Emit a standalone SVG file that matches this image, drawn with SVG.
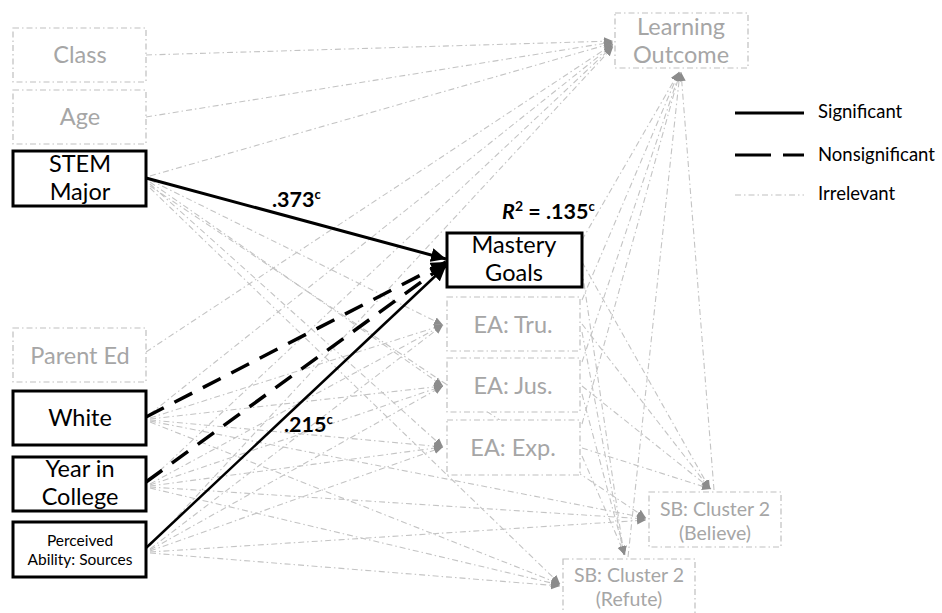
<svg xmlns="http://www.w3.org/2000/svg" width="942" height="613" viewBox="0 0 942 613">
  <style>
    .t { font-family: Lato, "Open Sans", "Liberation Sans", sans-serif; text-anchor: middle; }
    .g { fill: #a6a6a6; font-size: 23.5px; }
    .k { fill: #000; font-size: 23.5px; }
    .sb { fill: #a6a6a6; font-size: 19.5px; }
    .box-g { fill: #fff; stroke: #bfbfbf; stroke-width: 1.2; stroke-dasharray: 6 3 1.5 3; }
    .box-k { fill: #fff; stroke: #000; stroke-width: 3; }
    .irr { fill: none; stroke: #c4c4c4; stroke-width: 1.1; stroke-dasharray: 6 3 1.5 3; marker-end: url(#ag); }
    .sig { fill: none; stroke: #000; stroke-width: 3; marker-end: url(#ak); }
    .ns { fill: none; stroke: #000; stroke-width: 3.5; stroke-dasharray: 20 12; marker-end: url(#ak); }
    .lbl { font-family: Lato, "Open Sans", "Liberation Sans", sans-serif; font-weight: bold; font-size: 21.5px; fill: #000; }
    .leg { font-family: Lato, "Open Sans", "Liberation Sans", sans-serif; font-size: 18.5px; fill: #000; }
  </style>
  <defs>
    <marker id="ag" markerUnits="userSpaceOnUse" markerWidth="10" markerHeight="10" refX="9" refY="5" orient="auto">
      <path d="M0,1 L9,5 L0,9 Z" fill="#8c8c8c"/>
    </marker>
    <marker id="ak" markerUnits="userSpaceOnUse" markerWidth="16" markerHeight="14" refX="15" refY="7" orient="auto">
      <path d="M0,0 L15,7 L0,14 Z" fill="#000"/>
    </marker>
  </defs>

  <rect width="942" height="613" fill="#fff"/>

  <!-- irrelevant paths (dash-dot grey) -->
  <g id="connectors-irrelevant">
    <!-- covariates to Learning Outcome -->
    <line class="irr" x1="146" y1="55" x2="613" y2="41"/>
    <line class="irr" x1="146" y1="117" x2="613" y2="42"/>
    <line class="irr" x1="150" y1="176" x2="613" y2="43"/>
    <line class="irr" x1="146" y1="352" x2="613" y2="44"/>
    <line class="irr" x1="150" y1="414" x2="613" y2="45"/>
    <line class="irr" x1="150" y1="480" x2="613" y2="46"/>
    <line class="irr" x1="150" y1="546" x2="613" y2="47"/>
    <!-- predictors to epistemic aims -->
    <line class="irr" x1="150" y1="180" x2="443" y2="325"/>
    <line class="irr" x1="150" y1="182" x2="443" y2="386"/>
    <line class="irr" x1="150" y1="184" x2="443" y2="447"/>
    <line class="irr" x1="150" y1="418" x2="443" y2="325"/>
    <line class="irr" x1="150" y1="419" x2="443" y2="386"/>
    <line class="irr" x1="150" y1="420" x2="443" y2="447"/>
    <line class="irr" x1="150" y1="484" x2="443" y2="325"/>
    <line class="irr" x1="150" y1="485" x2="443" y2="386"/>
    <line class="irr" x1="150" y1="486" x2="443" y2="447"/>
    <line class="irr" x1="150" y1="549" x2="443" y2="325"/>
    <line class="irr" x1="150" y1="550" x2="443" y2="386"/>
    <line class="irr" x1="150" y1="551" x2="443" y2="447"/>
    <!-- predictors to scientific beliefs -->
    <line class="irr" x1="150" y1="186" x2="646" y2="518"/>
    <line class="irr" x1="150" y1="188" x2="560" y2="584"/>
    <line class="irr" x1="150" y1="421" x2="646" y2="518"/>
    <line class="irr" x1="150" y1="422" x2="560" y2="584"/>
    <line class="irr" x1="150" y1="487" x2="646" y2="519"/>
    <line class="irr" x1="150" y1="488" x2="560" y2="585"/>
    <line class="irr" x1="150" y1="552" x2="646" y2="520"/>
    <line class="irr" x1="150" y1="553" x2="560" y2="586"/>
    <!-- mediators to outcomes -->
    <line class="irr" x1="582" y1="240" x2="679" y2="72"/>
    <line class="irr" x1="582" y1="300" x2="679" y2="72"/>
    <line class="irr" x1="582" y1="362" x2="680" y2="72"/>
    <line class="irr" x1="582" y1="424" x2="680" y2="72"/>
    <line class="irr" x1="582" y1="262" x2="710" y2="489"/>
    <line class="irr" x1="582" y1="324" x2="710" y2="489"/>
    <line class="irr" x1="582" y1="386" x2="711" y2="489"/>
    <line class="irr" x1="582" y1="448" x2="711" y2="489"/>
    <line class="irr" x1="582" y1="270" x2="624" y2="555"/>
    <line class="irr" x1="582" y1="332" x2="624" y2="555"/>
    <line class="irr" x1="582" y1="394" x2="625" y2="555"/>
    <line class="irr" x1="582" y1="456" x2="625" y2="555"/>
    <!-- scientific beliefs to Learning Outcome -->
    <line class="irr" x1="714" y1="490" x2="681" y2="72"/>
    <line class="irr" x1="628" y1="557" x2="680" y2="72"/>
  </g>

  <!-- estimated paths to Mastery Goals -->
  <g id="connectors-estimated">
    <line class="sig" x1="146" y1="178" x2="446" y2="259"/>
    <line class="ns" x1="146" y1="417" x2="446" y2="262"/>
    <line class="ns" x1="146" y1="482" x2="446" y2="264"/>
    <line class="sig" style="stroke-width:2.5" x1="146" y1="548" x2="446" y2="266"/>
  </g>

  <!-- path coefficients -->
  <g id="labels">
    <text class="lbl" x="272" y="207">.373<tspan font-size="13" dy="-8">c</tspan></text>
    <text class="lbl" x="284" y="432">.215<tspan font-size="13" dy="-8">c</tspan></text>
    <text class="lbl" x="502" y="219"><tspan font-style="italic">R</tspan><tspan font-size="14" dy="-8">2</tspan><tspan dy="8"> = .135</tspan><tspan font-size="13" dy="-8">c</tspan></text>
  </g>

  <!-- covariates / predictors -->
  <g id="class"><rect class="box-g" x="13" y="28" width="133" height="54"/><text class="t g" x="80" y="63">Class</text></g>
  <g id="age"><rect class="box-g" x="13" y="90" width="133" height="54"/><text class="t g" x="80" y="125">Age</text></g>
  <g id="stem-major"><rect class="box-k" x="13" y="151" width="133" height="55"/><text class="t k" x="80" y="172">STEM<tspan x="80" dy="28.3">Major</tspan></text></g>
  <g id="parent-ed"><rect class="box-g" x="13" y="328" width="133" height="54"/><text class="t g" x="80" y="364">Parent Ed</text></g>
  <g id="white"><rect class="box-k" x="13" y="391" width="133" height="54"/><text class="t k" x="80" y="426">White</text></g>
  <g id="year-in-college"><rect class="box-k" x="13" y="457" width="133" height="54"/><text class="t k" x="80" y="477">Year in<tspan x="80" dy="28.3">College</tspan></text></g>
  <g id="perceived-ability"><rect class="box-k" x="13" y="522" width="133" height="55"/><text class="t" x="80" y="546" font-size="15.5" fill="#000">Perceived<tspan x="80" dy="19">Ability: Sources</tspan></text></g>

  <!-- mediators -->
  <g id="mastery-goals"><rect class="box-k" x="447" y="233" width="135" height="54"/><text class="t k" x="514" y="253">Mastery<tspan x="514" dy="28.3">Goals</tspan></text></g>
  <g id="ea-tru"><rect class="box-g" x="447" y="297" width="133" height="54"/><text class="t g" x="513" y="333">EA: Tru.</text></g>
  <g id="ea-jus"><rect class="box-g" x="447" y="358" width="133" height="54"/><text class="t g" x="513" y="394">EA: Jus.</text></g>
  <g id="ea-exp"><rect class="box-g" x="447" y="420" width="133" height="55"/><text class="t g" x="513" y="456">EA: Exp.</text></g>

  <!-- outcomes -->
  <g id="learning-outcome"><rect class="box-g" x="615" y="13" width="133" height="55"/><text class="t g" x="681" y="35">Learning<tspan x="681" dy="28.3">Outcome</tspan></text></g>
  <g id="sb-believe"><rect class="box-g" x="649" y="492" width="132" height="55"/><text class="t sb" x="715" y="516">SB: Cluster 2<tspan x="715" dy="23.5">(Believe)</tspan></text></g>
  <g id="sb-refute"><rect class="box-g" x="563" y="559" width="132" height="60"/><text class="t sb" x="629" y="582">SB: Cluster 2<tspan x="629" dy="23.5">(Refute)</tspan></text></g>

  <!-- legend -->
  <g id="legend">
    <line x1="735" y1="113" x2="804" y2="113" stroke="#000" stroke-width="3"/>
    <text class="leg" x="818" y="118">Significant</text>
    <line x1="735" y1="155" x2="804" y2="155" stroke="#000" stroke-width="3" stroke-dasharray="36 12"/>
    <text class="leg" x="818" y="161">Nonsignificant</text>
    <line x1="735" y1="195" x2="804" y2="195" stroke="#bfbfbf" stroke-width="1" stroke-dasharray="6 3 1.5 3"/>
    <text class="leg" x="818" y="200">Irrelevant</text>
  </g>
</svg>
